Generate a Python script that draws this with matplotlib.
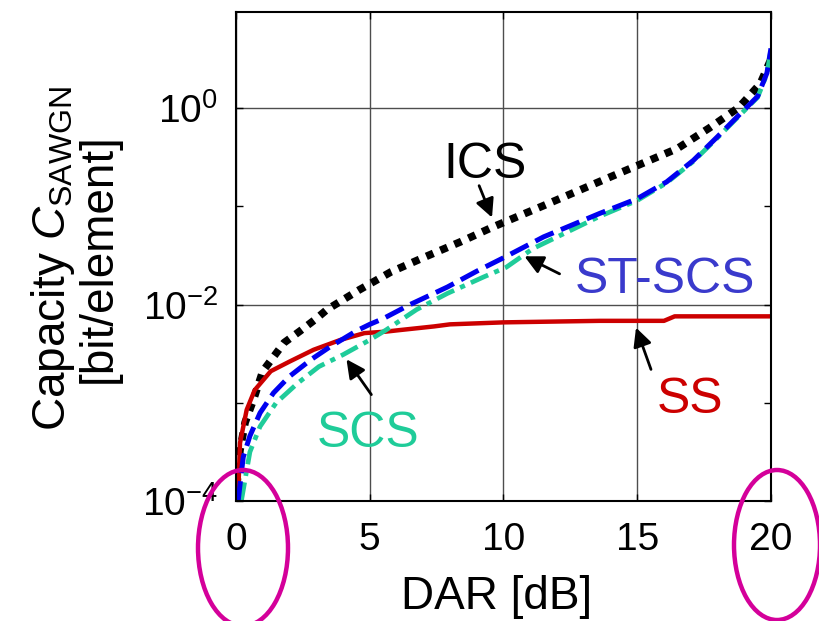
import matplotlib
matplotlib.use("Agg")
import matplotlib.pyplot as plt
from matplotlib.patches import Ellipse
from matplotlib.ticker import NullFormatter

plt.rcParams['font.family'] = ['Liberation Sans', 'DejaVu Sans']
plt.rcParams['mathtext.fontset'] = 'custom'
plt.rcParams['mathtext.rm'] = 'Liberation Sans'
plt.rcParams['mathtext.it'] = 'Liberation Sans:italic'
plt.rcParams['mathtext.bf'] = 'Liberation Sans:bold'

# DAR [dB] and capacity [bit/element]
ics_dar = [0, 0.03, 0.15, 0.34, 0.65, 1.0, 1.8, 2.4, 3.0, 3.4, 4.6, 5.8, 7.1,
           8.4, 9.6, 10.2, 11.5, 12.7, 14.0, 15.2, 16.5, 17.7, 18.8, 19.6, 20.0]
ics_cap = [1.0e-4, 1.41e-4, 3.3e-4, 6.3e-4, 1.07e-3, 2.1e-3, 4.1e-3, 5.4e-3,
           7.2e-3, 8.9e-3, 0.0141, 0.0216, 0.0309, 0.0437, 0.0617, 0.0724,
           0.102, 0.141, 0.200, 0.275, 0.389, 0.631, 1.02, 1.78, 3.16]

ss_dar = [0, 0.08, 0.15, 0.4, 0.7, 1.3, 2.0, 2.9, 3.9, 4.8, 5.6, 6.1, 7.4, 8.0,
          10.0, 13.6, 16.0, 16.4, 20.0]
ss_cap = [1.0e-4, 1.12e-4, 3.9e-4, 8.5e-4, 1.35e-3, 2.1e-3, 2.63e-3, 3.47e-3,
          4.37e-3, 5.13e-3, 5.31e-3, 5.5e-3, 6.0e-3, 6.3e-3, 6.6e-3, 6.84e-3,
          6.84e-3, 7.6e-3, 7.6e-3]

stscs_dar = [0.08, 0.27, 0.52, 0.9, 1.4, 2.0, 2.8, 3.5, 4.5, 5.0, 5.5, 6.5, 7.9,
             9.0, 10.0, 11.5, 13.6, 15.0, 16.1, 17.1, 18.0, 18.8, 19.5, 19.85, 20.0]
stscs_cap = [1.0e-4, 2.8e-4, 4.6e-4, 7.9e-4, 1.26e-3, 1.86e-3, 2.75e-3, 3.7e-3,
             5.4e-3, 6.3e-3, 7.2e-3, 0.0100, 0.0151, 0.0219, 0.030, 0.049, 0.085,
             0.120, 0.178, 0.295, 0.513, 0.851, 1.32, 2.29, 4.07]

scs_dar = [0.2, 0.52, 0.9, 1.5, 2.3, 3.1, 4.0, 5.0, 5.6, 6.75, 7.9, 9.25, 10.1,
           11.1, 13.6, 15.0, 16.1, 17.1, 18.0, 18.8, 19.5, 19.85, 20.0]
scs_cap = [1.0e-4, 3.16e-4, 5.75e-4, 1.0e-3, 1.58e-3, 2.34e-3, 3.09e-3, 4.37e-3,
           5.5e-3, 8.9e-3, 0.0130, 0.0191, 0.024, 0.0372, 0.0794, 0.115, 0.174,
           0.288, 0.501, 0.832, 1.29, 2.24, 3.98]

x_ticks = [0, 5, 10, 15, 20]
y_ticks = [1e-4, 1e-2, 1e0]
y_ticklabels = [r'$10^{-4}$', r'$10^{-2}$', r'$10^{0}$']

fig = plt.figure(figsize=(8.2, 6.21), dpi=100)
ax = fig.add_axes([0.2878, 0.1932, 0.6524, 0.7874])

ax.plot(ics_dar, ics_cap, color='black', lw=5.5, linestyle=(0, (1.0, 1.0)))
ax.plot(ss_dar, ss_cap, color='#cc0000', lw=3.2)
ax.plot(scs_dar, scs_cap, color='#1fcc9a', lw=3.4, linestyle=(0, (4.0, 1.4, 1.1, 1.4)))
ax.plot(stscs_dar, stscs_cap, color='#0000f0', lw=3.6, linestyle=(0, (4.0, 1.6)))

ax.set_yscale('log')
ax.set_xlim(0, 20)
ax.set_ylim(1e-4, 10 ** 0.98)
ax.set_xticks(x_ticks)
ax.set_yticks(y_ticks)
ax.set_yticklabels(y_ticklabels)
ax.set_yticks([1e-3, 1e-1], minor=True)
ax.yaxis.set_minor_formatter(NullFormatter())
ax.grid(True, which='major', color='0.3', lw=1)
ax.tick_params(which='both', direction='in', top=True, right=True,
               length=5, width=1, labelsize=28)
ax.tick_params(axis='x', pad=15)
ax.tick_params(axis='y', pad=13)
for s in ax.spines.values():
    s.set_linewidth(1.5)

# curve labels with arrows
arrow = dict(arrowstyle='-|>', color='black', lw=2.0, mutation_scale=28)
ax.annotate('', xy=(9.61, 0.0726), xytext=(9.05, 0.173), arrowprops=arrow)
ax.text(7.74, 0.194, 'ICS', fontsize=36, color='black')
ax.annotate('', xy=(10.69, 0.032), xytext=(12.19, 0.020), arrowprops=arrow)
ax.text(12.67, 0.0131, 'ST-SCS', fontsize=36, color='#3a3acc')
ax.annotate('', xy=(4.07, 2.93e-3), xytext=(5.12, 1.15e-3), arrowprops=arrow)
ax.text(3.03, 3.56e-4, 'SCS', fontsize=36, color='#1fcc99')
ax.annotate('', xy=(14.92, 6.2e-3), xytext=(15.55, 2.06e-3), arrowprops=arrow)
ax.text(15.74, 7.9e-4, 'SS', fontsize=36, color='#cc0000')

fig.text(75 / 820, 1 - 258 / 621, 'Capacity $\\mathit{C}_{\\mathrm{SAWGN}}$\n[bit/element]',
         rotation=90, ha='center', va='center', fontsize=33, multialignment='center',
         linespacing=1.0)
fig.text(497 / 820, 1 - 597 / 621, 'DAR [dB]', ha='center', va='center', fontsize=33)

# highlight rings around the 0 and 20 dB ticks
for cx, cy, w, h in [(243, 548, 90, 156), (777, 545, 86, 150)]:
    fig.patches.append(Ellipse((cx / 820, 1 - cy / 621), w / 820, h / 621,
                               transform=fig.transFigure, fill=False,
                               ec='#d4009a', lw=3.2))

fig.savefig('out.png', dpi=100)
